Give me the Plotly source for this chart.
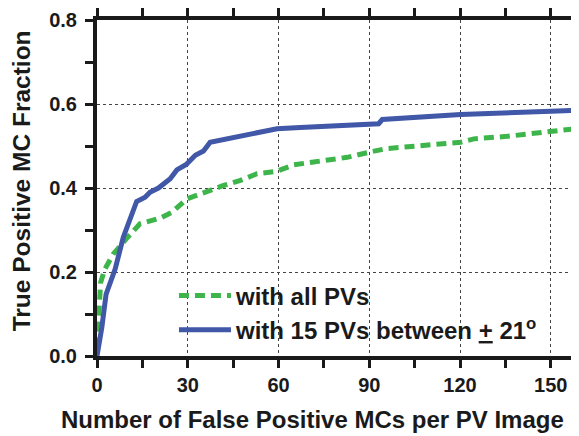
import plotly.graph_objects as go

# Data
fp_all = [0, 0.5, 1.0, 1.2, 2.6, 5.4, 9.8, 14.2, 20.8, 24.7, 29.7, 35.2, 41.8, 47.4, 52.9, 59.5,
          65.0, 71.6, 82.7, 90.4, 95.9, 120.2, 124.6, 135.6, 152.2, 159.0]
tp_all = [0.02, 0.068, 0.131, 0.175, 0.207, 0.243, 0.280, 0.315, 0.328, 0.342, 0.374, 0.390, 0.406,
          0.418, 0.434, 0.440, 0.455, 0.462, 0.473, 0.486, 0.494, 0.509, 0.517, 0.523, 0.535, 0.542]

fp_15 = [0, 1.6, 3.0, 4.5, 6.0, 8.7, 11.5, 13.1, 15.9, 17.5, 20.3, 24.2, 26.4, 29.5, 32.5, 35.2,
         37.4, 59.5, 67.2, 93.1, 94.3, 120.2, 150.0, 159.0]
tp_15 = [0.0, 0.068, 0.147, 0.179, 0.207, 0.283, 0.334, 0.368, 0.378, 0.390, 0.400, 0.422, 0.443,
         0.456, 0.478, 0.488, 0.509, 0.541, 0.544, 0.553, 0.563, 0.575, 0.583, 0.585]

name_all = "with all PVs"
name_15 = "with 15 PVs between <u>+</u> 21<sup>o</sup>"

x_title = "Number of False Positive MCs per PV Image"
y_title = "True Positive MC Fraction"

X_RANGE = [0, 159]
Y_RANGE = [0, 0.8]

GREEN = "#3DB54A"
BLUE = "#4157A7"
INK = "#1a1a1a"
FONT = "Liberation Sans"

fig = go.Figure()
fig.add_trace(go.Scatter(x=fp_all, y=tp_all, mode="lines", name=name_all, legendgroup="a",
                         line=dict(color=GREEN, width=5, dash="10px,6px")))
fig.add_trace(go.Scatter(x=fp_15, y=tp_15, mode="lines", name=name_15, legendgroup="b",
                         line=dict(color=BLUE, width=5)))
# invisible copy on the overlay axes (used only to carry the mirrored tick marks)
fig.add_trace(go.Scatter(x=fp_15, y=tp_15, mode="lines", xaxis="x2", yaxis="y2", opacity=0,
                         showlegend=False, hoverinfo="skip", line=dict(color=BLUE, width=5)))

tick_style = dict(ticks="outside", ticklen=8, tickwidth=3, tickcolor=INK,
                  showline=True, linecolor=INK, linewidth=4, mirror="ticks", zeroline=False)

fig.update_layout(
    xaxis=dict(
        range=X_RANGE, tickmode="linear", tick0=0, dtick=30,
        minor=dict(dtick=15, ticks="outside", ticklen=8, tickwidth=3, tickcolor=INK, showgrid=False),
        showgrid=True, gridcolor="#444444", griddash="dot", gridwidth=1,
        tickfont=dict(family=FONT, size=20, color=INK, weight="bold"),
        **tick_style,
    ),
    yaxis=dict(
        range=Y_RANGE, tickmode="linear", tick0=0, dtick=0.2, tickformat=".1f",
        automargin=False,
        minor=dict(dtick=0.1, ticks="outside", ticklen=8, tickwidth=3, tickcolor=INK, showgrid=False),
        showgrid=True, gridcolor="#444444", griddash="dot", gridwidth=1,
        tickfont=dict(family=FONT, size=20, color=INK, weight="bold"),
        ticklabelstandoff=4,
        **tick_style,
    ),
    xaxis2=dict(
        range=X_RANGE, overlaying="x", side="top", anchor="y2",
        tickmode="linear", tick0=0, dtick=30, showticklabels=False, showgrid=False,
        minor=dict(dtick=15, ticks="outside", ticklen=8, tickwidth=3, tickcolor=INK, showgrid=False),
        **tick_style,
    ),
    yaxis2=dict(
        range=Y_RANGE, overlaying="y", side="right", anchor="x2",
        tickmode="linear", tick0=0, dtick=0.2, showticklabels=False, showgrid=False,
        minor=dict(dtick=0.1, ticks="outside", ticklen=8, tickwidth=3, tickcolor=INK, showgrid=False),
        **tick_style,
    ),
)

# axis titles placed as annotations (paper coordinates)
fig.add_annotation(text="<b>" + x_title + "</b>", xref="paper", yref="paper", x=0.449, y=-0.19,
                   xanchor="center", yanchor="middle", showarrow=False,
                   font=dict(family=FONT, size=24, color=INK))
fig.add_annotation(text="<b>" + y_title + "</b>", xref="paper", yref="paper", x=-0.158, y=0.52,
                   xanchor="center", yanchor="middle", showarrow=False, textangle=-90,
                   font=dict(family=FONT, size=24.5, color=INK))

# page body adds an 8px offset, so the figure is 8px smaller on each dimension
fig.update_layout(
    width=571, height=428,
    margin=dict(l=89, r=1, t=12, b=80, autoexpand=False),
    paper_bgcolor="white", plot_bgcolor="white",
    showlegend=True,
    legend=dict(x=0.16, y=0.246, xanchor="left", yanchor="top", bgcolor="rgba(0,0,0,0)",
                font=dict(family=FONT, size=24, color=INK, weight="bold"),
                tracegroupgap=0, itemwidth=52),
)

fig.write_html("out.html")
